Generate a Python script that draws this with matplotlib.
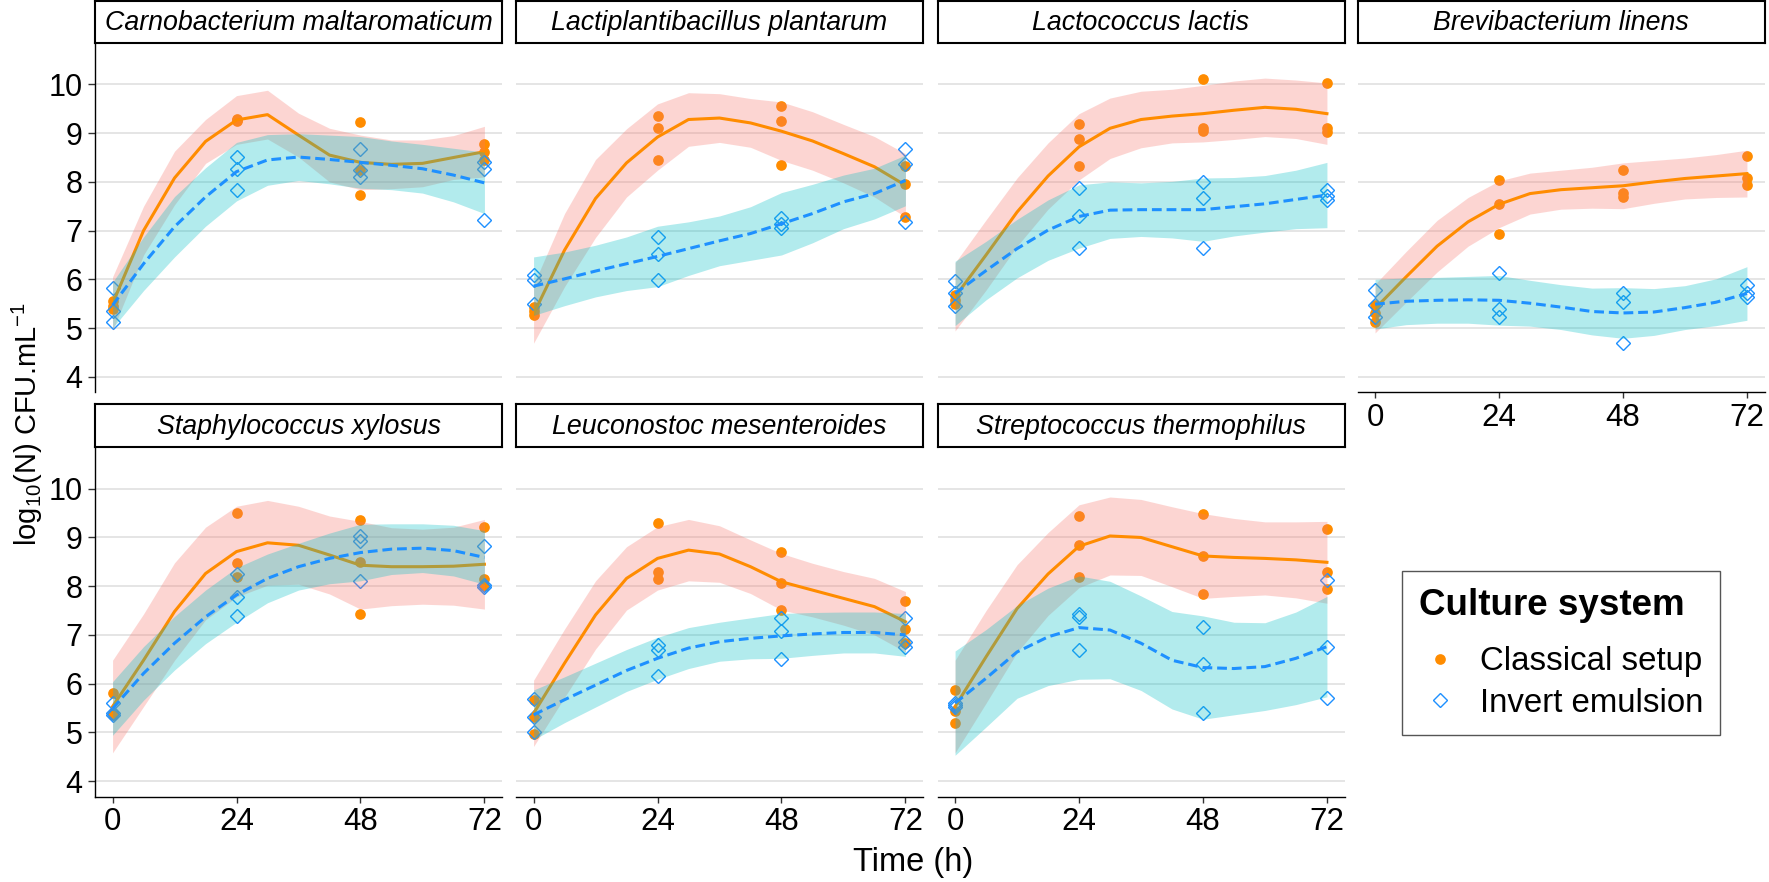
import numpy as np
import matplotlib
matplotlib.use('Agg')
import matplotlib.pyplot as plt
from matplotlib.lines import Line2D

plt.rcParams['font.family'] = ['Liberation Sans', 'DejaVu Sans']
plt.rcParams['mathtext.fontset'] = 'custom'
plt.rcParams['mathtext.rm'] = 'Liberation Sans'
plt.rcParams['mathtext.it'] = 'Liberation Sans:italic'

species = ['Carnobacterium maltaromaticum', 'Lactiplantibacillus plantarum',
           'Lactococcus lactis', 'Brevibacterium linens',
           'Staphylococcus xylosus', 'Leuconostoc mesenteroides',
           'Streptococcus thermophilus']

# sampling times of the replicates, and times where the smooth was read
time_pts = [0, 0, 0, 24, 24, 24, 48, 48, 48, 72, 72, 72]
time_fit = [0, 6, 12, 18, 24, 30, 36, 42, 48, 54, 60, 66, 72]

# replicate counts, log10 CFU/mL
classical_pts = [
    [5.55, 5.45, 5.40, 9.25, 9.28, 9.30, 9.23, 8.24, 7.73, 8.78, 8.62, 8.45],
    [5.43, 5.36, 5.26, 9.35, 9.11, 8.45, 9.55, 9.25, 8.34, 8.32, 7.95, 7.28],
    [5.67, 5.57, 5.50, 9.18, 8.89, 8.33, 10.12, 9.10, 9.05, 10.02, 9.10, 9.03],
    [5.47, 5.30, 5.12, 8.03, 7.54, 6.94, 8.25, 7.77, 7.69, 8.53, 8.07, 7.93],
    [5.80, 5.39, 5.36, 9.51, 8.48, 8.18, 9.36, 8.49, 7.42, 9.22, 8.15, 8.01],
    [5.66, 5.31, 4.97, 9.30, 8.30, 8.14, 8.71, 8.06, 7.51, 7.70, 7.13, 6.83],
    [5.86, 5.43, 5.20, 9.43, 8.84, 8.19, 9.49, 8.61, 7.84, 9.18, 8.30, 7.95],
]
invert_pts = [
    [5.83, 5.36, 5.12, 8.51, 8.27, 7.83, 8.67, 8.24, 8.10, 8.41, 8.27, 7.21],
    [6.08, 5.98, 5.50, 6.87, 6.53, 5.99, 7.25, 7.14, 7.05, 8.68, 8.36, 7.18],
    [5.96, 5.71, 5.45, 7.88, 7.29, 6.64, 8.00, 7.66, 6.64, 7.83, 7.72, 7.62],
    [5.79, 5.47, 5.23, 6.12, 5.40, 5.23, 5.72, 5.53, 4.69, 5.88, 5.71, 5.64],
    [5.61, 5.39, 5.36, 8.25, 7.78, 7.39, 9.03, 8.93, 8.11, 8.83, 8.02, 7.99],
    [5.68, 5.31, 5.00, 6.79, 6.70, 6.16, 7.34, 7.08, 6.51, 7.34, 6.85, 6.75],
    [5.60, 5.56, 5.52, 7.42, 7.36, 6.69, 7.17, 6.40, 5.39, 8.13, 6.76, 5.70],
]

# loess smooth and half width of its confidence band
classical_fit = [
    [5.50, 7.00, 8.08, 8.83, 9.27, 9.38, 8.96, 8.55, 8.40, 8.36, 8.38, 8.50, 8.62],
    [5.29, 6.60, 7.66, 8.39, 8.92, 9.28, 9.31, 9.21, 9.04, 8.84, 8.58, 8.31, 7.93],
    [5.64, 6.50, 7.38, 8.12, 8.72, 9.10, 9.28, 9.35, 9.40, 9.47, 9.53, 9.49, 9.40],
    [5.40, 6.05, 6.68, 7.18, 7.54, 7.76, 7.84, 7.88, 7.92, 8.00, 8.07, 8.12, 8.17],
    [5.53, 6.48, 7.48, 8.26, 8.71, 8.89, 8.84, 8.64, 8.43, 8.40, 8.40, 8.41, 8.45],
    [5.39, 6.42, 7.41, 8.16, 8.57, 8.74, 8.66, 8.40, 8.09, 7.92, 7.75, 7.58, 7.27],
    [5.53, 6.55, 7.54, 8.25, 8.82, 9.03, 9.00, 8.81, 8.62, 8.59, 8.57, 8.54, 8.49],
]
classical_se = [
    [0.55, 0.50, 0.55, 0.45, 0.50, 0.50, 0.45, 0.55, 0.56, 0.50, 0.48, 0.45, 0.52],
    [0.60, 0.75, 0.80, 0.70, 0.68, 0.55, 0.50, 0.50, 0.60, 0.60, 0.60, 0.62, 0.65],
    [0.70, 0.72, 0.70, 0.68, 0.68, 0.62, 0.58, 0.55, 0.58, 0.60, 0.60, 0.60, 0.63],
    [0.50, 0.52, 0.53, 0.50, 0.48, 0.42, 0.40, 0.42, 0.47, 0.44, 0.42, 0.44, 0.48],
    [0.95, 0.95, 1.00, 0.95, 0.93, 0.87, 0.80, 0.80, 0.90, 0.80, 0.77, 0.80, 0.92],
    [0.68, 0.70, 0.70, 0.65, 0.65, 0.63, 0.58, 0.55, 0.58, 0.55, 0.55, 0.58, 0.62],
    [0.95, 0.95, 0.90, 0.85, 0.85, 0.80, 0.78, 0.82, 0.87, 0.80, 0.75, 0.78, 0.84],
]
invert_fit = [
    [5.47, 6.32, 7.08, 7.69, 8.21, 8.45, 8.51, 8.46, 8.40, 8.34, 8.27, 8.14, 7.98],
    [5.86, 6.01, 6.17, 6.32, 6.47, 6.63, 6.79, 6.94, 7.14, 7.35, 7.59, 7.76, 8.03],
    [5.71, 6.18, 6.63, 7.01, 7.29, 7.42, 7.43, 7.43, 7.43, 7.49, 7.55, 7.64, 7.73],
    [5.49, 5.55, 5.57, 5.58, 5.57, 5.51, 5.43, 5.34, 5.31, 5.33, 5.42, 5.53, 5.71],
    [5.49, 6.21, 6.83, 7.37, 7.82, 8.16, 8.40, 8.57, 8.69, 8.76, 8.78, 8.73, 8.59],
    [5.36, 5.67, 5.97, 6.27, 6.52, 6.73, 6.86, 6.93, 6.98, 7.02, 7.05, 7.05, 7.00],
    [5.60, 6.11, 6.65, 6.96, 7.15, 7.10, 6.83, 6.48, 6.33, 6.31, 6.35, 6.52, 6.76],
]
invert_se = [
    [0.47, 0.55, 0.62, 0.60, 0.60, 0.52, 0.48, 0.50, 0.53, 0.50, 0.50, 0.55, 0.63],
    [0.60, 0.55, 0.53, 0.55, 0.62, 0.55, 0.51, 0.55, 0.64, 0.60, 0.55, 0.52, 0.52],
    [0.66, 0.60, 0.60, 0.62, 0.65, 0.58, 0.55, 0.58, 0.65, 0.60, 0.58, 0.60, 0.67],
    [0.51, 0.48, 0.47, 0.48, 0.51, 0.47, 0.46, 0.48, 0.52, 0.48, 0.45, 0.48, 0.55],
    [0.55, 0.55, 0.55, 0.55, 0.56, 0.50, 0.48, 0.52, 0.58, 0.52, 0.50, 0.52, 0.55],
    [0.51, 0.47, 0.45, 0.43, 0.43, 0.42, 0.40, 0.42, 0.46, 0.44, 0.42, 0.42, 0.44],
    [1.07, 1.00, 0.95, 1.00, 1.06, 1.00, 0.97, 1.00, 1.06, 0.95, 0.90, 0.95, 1.03],
]

orange = '#FF8C00'
blue = '#1E90FF'
pink_fill = '#F8766D'
cyan_fill = '#00BFC4'

W, H = 1769, 882
fig = plt.figure(figsize=(W / 100, H / 100), dpi=100)


def box(x0, y0, x1, y1):
    return [x0 / W, 1 - y1 / H, (x1 - x0) / W, (y1 - y0) / H]


col_left = [95, 516, 937.5, 1357.5]
panel_w = 407
row_top = [43, 447.3]
panel_h = 349.4
strip_top = [1, 404]

for i, name in enumerate(species):
    r, c = divmod(i, 4)
    x0 = col_left[c]
    ax = fig.add_axes(box(x0, row_top[r], x0 + panel_w, row_top[r] + panel_h))
    ax.set_xlim(-3.4, 75.4)
    ax.set_ylim(3.68, 10.85)
    ax.set_yticks(range(4, 11))
    ax.set_xticks([0, 24, 48, 72])
    ax.yaxis.grid(True, color='#DEDEDE', lw=1.1)
    ax.set_axisbelow(True)

    show_y = c == 0
    show_x = r == 1 or i == 3
    for s in ['top', 'right']:
        ax.spines[s].set_visible(False)
    ax.spines['left'].set_visible(show_y)
    ax.spines['bottom'].set_visible(show_x)
    for s in ['left', 'bottom']:
        ax.spines[s].set_linewidth(1.0)
    ax.tick_params(axis='y', left=show_y, labelleft=show_y, length=5, width=1,
                   color='#333333', labelsize=22, pad=4)
    ax.tick_params(axis='x', bottom=show_x, labelbottom=show_x, length=4.5, width=1,
                   color='#333333', labelsize=22.5, pad=3)

    t = np.array(time_fit)
    cf, cs = np.array(classical_fit[i]), np.array(classical_se[i])
    inf, ins = np.array(invert_fit[i]), np.array(invert_se[i])

    ax.plot(time_pts, classical_pts[i], 'o', color=orange, ms=7.7, mec='none', zorder=2)
    ax.plot(time_pts, invert_pts[i], 'D', mfc='none', mec=blue, mew=1.0, ms=7.5, zorder=2)

    ax.fill_between(t, cf - cs, cf + cs, color=pink_fill, alpha=0.3, lw=0, zorder=3)
    ax.plot(t, cf, color=orange, lw=2.2, zorder=4, solid_joinstyle='round')
    ax.fill_between(t, inf - ins, inf + ins, color=cyan_fill, alpha=0.3, lw=0, zorder=5)
    ax.plot(t, inf, color=blue, lw=2.2, dashes=(3.2, 1.6), zorder=6)

    sax = fig.add_axes(box(x0, strip_top[r], x0 + panel_w, row_top[r]))
    sax.set_xticks([])
    sax.set_yticks([])
    for s in sax.spines.values():
        s.set_linewidth(1.5)
    sax.text(0.5, 0.48, name, style='italic', ha='center', va='center',
             fontsize=19.3, transform=sax.transAxes)

fig.text(913 / W, 1 - 863 / H, 'Time (h)', ha='center', va='center', fontsize=23.5)
fig.text(27 / W, 1 - 424 / H, r'log$_{10}$(N) CFU.mL$^{-1}$', rotation=90,
         ha='center', va='center', fontsize=21)

handles = [
    Line2D([], [], ls='none', marker='o', color=orange, mec='none', ms=7.7),
    Line2D([], [], ls='none', marker='D', mfc='none', mec=blue, mew=1.0, ms=7.5),
]
leg = fig.legend(handles, ['Classical setup', 'Invert emulsion'], loc='upper left',
                 bbox_to_anchor=(1402.3 / W, 1 - 571 / H), frameon=True, fancybox=False,
                 edgecolor='#555555', framealpha=1, title='Culture system',
                 title_fontproperties={'weight': 'bold', 'size': 26.5}, fontsize=23.8,
                 alignment='left', borderpad=0.5, handlelength=1.3,
                 handletextpad=0.55, labelspacing=0.32, borderaxespad=0)
leg.get_frame().set_linewidth(1.0)
# wider gap between the legend title and its entries
leg._legend_box.sep = 17

fig.savefig('out.png', dpi=100)
